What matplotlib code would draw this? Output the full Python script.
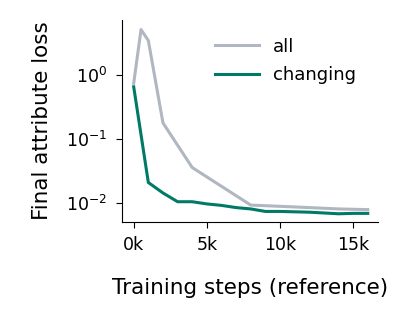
import matplotlib
matplotlib.use("Agg")
import matplotlib.pyplot as plt
from matplotlib.ticker import FixedLocator, NullLocator

steps_all = [0, 500, 1000, 2000, 4000, 8000, 9000, 10000, 11000, 12000, 13000, 14000, 15000, 16000]
loss_all = [0.75, 5.2, 3.5, 0.18, 0.036, 0.0093, 0.0091, 0.0089, 0.0087, 0.0085, 0.0083, 0.0081, 0.0080, 0.0079]

steps_chg = [0, 1000, 2000, 3000, 4000, 5000, 6000, 7000, 8000, 9000, 10000, 11000, 12000, 13000, 14000, 15000, 16000]
loss_chg = [0.66, 0.021, 0.0144, 0.0105, 0.0105, 0.0097, 0.0092, 0.0085, 0.0081, 0.0074, 0.0074, 0.0073, 0.0072, 0.0070, 0.0068, 0.0069, 0.0069]

fig = plt.figure(figsize=(4, 3.2), dpi=100)
ax = fig.add_axes([0.305, 0.307, 0.64, 0.63])

ax.plot(steps_all, loss_all, color='#b0b7c0', lw=2.2, label='all')
ax.plot(steps_chg, loss_chg, color='#007a66', lw=2.2, label='changing')

ax.set_yscale('log')
ax.set_ylim(0.0051, 7.3)
ax.set_xlim(-800, 16700)
ax.yaxis.set_major_locator(FixedLocator([0.01, 0.1, 1]))
ax.yaxis.set_minor_locator(NullLocator())
ax.set_xticks([0, 5000, 10000, 15000])
ax.set_xticklabels(['0k', '5k', '10k', '15k'])

ax.spines['top'].set_visible(False)
ax.spines['right'].set_visible(False)
ax.tick_params(labelsize=12.5, length=4.5, pad=6)

ax.set_xlabel('Training steps (reference)', fontsize=15.5, labelpad=17)
ax.set_ylabel('Final attribute loss', fontsize=15.5, labelpad=10)

ax.legend(loc='upper left', frameon=False, fontsize=13, handlelength=2.4,
          labelspacing=0.6, bbox_to_anchor=(0.52, 0.905),
          bbox_transform=fig.transFigure, borderaxespad=0)

fig.savefig('out.png', dpi=100)
